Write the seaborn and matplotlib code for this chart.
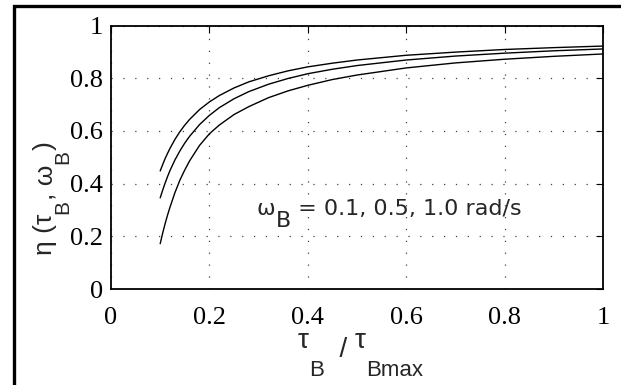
import numpy as np
import pandas as pd
import matplotlib
matplotlib.use("Agg")
import matplotlib.pyplot as plt
import seaborn as sns
from matplotlib.patches import Rectangle
from matplotlib.transforms import IdentityTransform

# --- data ---
tau = [0.10, 0.105, 0.11, 0.115, 0.12, 0.13, 0.14, 0.15, 0.16, 0.18, 0.20, 0.22,
       0.25, 0.28, 0.32, 0.36, 0.40, 0.45, 0.50, 0.60, 0.70, 0.80, 0.90, 1.00]
eta_w01 = [0.448, 0.472, 0.495, 0.515, 0.534, 0.568, 0.597, 0.622, 0.644, 0.681,
           0.710, 0.734, 0.763, 0.786, 0.809, 0.828, 0.843, 0.857, 0.869, 0.887,
           0.899, 0.909, 0.916, 0.922]
eta_w05 = [0.346, 0.375, 0.402, 0.427, 0.450, 0.490, 0.524, 0.554, 0.580, 0.624,
           0.659, 0.688, 0.722, 0.749, 0.777, 0.799, 0.817, 0.834, 0.848, 0.869,
           0.884, 0.895, 0.904, 0.911]
eta_w10 = [0.172, 0.212, 0.248, 0.281, 0.311, 0.366, 0.413, 0.452, 0.487, 0.545,
           0.589, 0.622, 0.662, 0.692, 0.726, 0.752, 0.773, 0.795, 0.812, 0.839,
           0.858, 0.872, 0.883, 0.892]
series_names = ["0.1", "0.5", "1.0"]
xticks = [0, 0.2, 0.4, 0.6, 0.8, 1.0]
xtick_labels = ["0", "0.2", "0.4", "0.6", "0.8", "1"]
yticks = [0, 0.2, 0.4, 0.6, 0.8, 1.0]
ytick_labels = ["0", "0.2", "0.4", "0.6", "0.8", "1"]

df = pd.concat([
    pd.DataFrame({"tau": tau, "eta": e, "omega": n})
    for e, n in zip([eta_w01, eta_w05, eta_w10], series_names)
])

sns.set_style("white")
SANS = ["Liberation Sans", "DejaVu Sans"]
plt.rcParams["font.family"] = SANS

W, H = 621, 385
fig = plt.figure(figsize=(W / 100, H / 100), dpi=100)
ax = fig.add_axes([111 / W, 1 - 289 / H, 492 / W, 263.5 / H])

sns.lineplot(data=df, x="tau", y="eta", hue="omega",
             palette=["black"] * 3, legend=False, ax=ax, linewidth=1.0,
             estimator=None, sort=True)

ax.set_xlim(0, 1)
ax.set_ylim(0, 1)
ax.set_xticks(xticks)
ax.set_yticks(yticks)
serif = {"family": ["Liberation Serif", "DejaVu Serif"], "size": 19}
ax.set_xticklabels(xtick_labels, fontdict=serif)
ax.set_yticklabels(ytick_labels, fontdict=serif)
ax.tick_params(direction="in", length=5, width=0.8, top=True, right=True,
               colors="black")
ax.tick_params(axis="x", pad=13)
ax.tick_params(axis="y", pad=6)
for s in ax.spines.values():
    s.set_visible(True)
    s.set_color("black")
    s.set_linewidth(1.3)
ax.grid(True, linestyle=(0, (1, 8.5)), color="#444444", linewidth=0.9)

ax.set_xlabel("")
ax.set_ylabel("")

renderer = fig.canvas.get_renderer()


def rich(parts, x0, y0, rotated=False, family=SANS):
    """parts: list of (text, fontsize, baseline offset in px downward).
    (x0, y0): start of main baseline in image pixels (origin top-left)."""
    cursor = 0.0
    for txt, size, drop in parts:
        if rotated:
            px = x0 + drop
            py = (H - y0) + cursor
            t = fig.text(px, py, txt, fontsize=size, family=family,
                         rotation=90, rotation_mode="anchor",
                         ha="left", va="baseline",
                         transform=IdentityTransform())
            cursor += t.get_window_extent(renderer).height
        else:
            px = x0 + cursor
            py = (H - y0) - drop
            t = fig.text(px, py, txt, fontsize=size, family=family,
                         ha="left", va="baseline",
                         transform=IdentityTransform())
            cursor += t.get_window_extent(renderer).width


# x label
rich([("τ", 20, 0), ("B", 16, 28), ("  / ", 20, 9), ("τ", 20, 0),
      ("Bmax", 16, 28)], 298, 348)
# y label (reads bottom to top)
rich([("η (τ", 19, 0), ("B", 15, 16), (", ω", 19, 0), ("B", 15, 16),
      (")", 19, 0)], 52, 255, rotated=True)
# annotation
rich([("ω", 16, 0), ("B", 16, 12), (" = 0.1, 0.5, 1.0 rad/s", 16, 0)],
     257, 215, family=["DejaVu Sans"])

fig.patches.append(Rectangle((13.5 / W, -0.5), 2, 1.5 - 6 / H,
                             transform=fig.transFigure, fill=False,
                             edgecolor="black", linewidth=2.4, zorder=10))

fig.savefig("out.png", dpi=100)
